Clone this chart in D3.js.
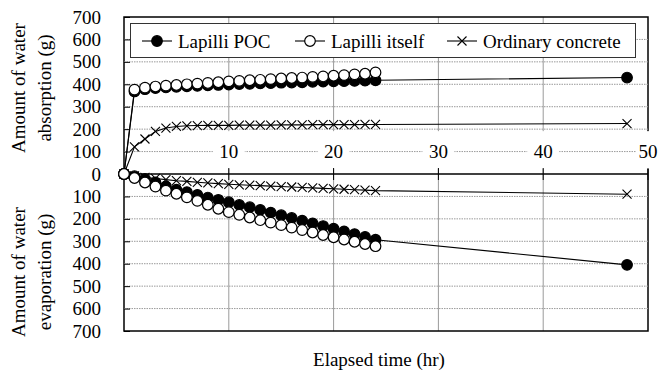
<!DOCTYPE html>
<html>
<head>
  <meta charset="UTF-8">
  <script src="https://d3js.org/d3.v7.min.js"></script>
  <style>
    body { margin: 0; background: #fff; }
    .grid { stroke: #9a9a9a; stroke-width: 1; }
    .hgrid { stroke-dasharray: 1.5 1; }
  </style>
</head>
<body>
  <script>
    // hours measured (0..24 hourly, then 48)
    const hours = [0, 1, 2, 3, 4, 5, 6, 7, 8, 9, 10, 11, 12, 13, 14, 15, 16, 17, 18, 19, 20, 21, 22, 23, 24, 48];

    // absorption (positive, g)
    const pocAbs    = [0, 368, 378, 383, 386, 389, 391, 393, 395, 397, 399, 401, 402, 404, 405, 407, 408, 409, 411, 412, 413, 414, 415, 416, 418, 430];
    const itselfAbs = [0, 376, 385, 390, 394, 397, 400, 403, 406, 409, 413, 415, 418, 420, 423, 426, 428, 430, 433, 435, 438, 441, 444, 447, 453];
    const ordAbs    = [0, 121, 156, 190, 205, 212, 215, 216, 217, 217, 217, 218, 218, 218, 218, 219, 219, 219, 220, 220, 220, 220, 220, 221, 221, 225];

    // evaporation (negative, g)
    const pocEvap    = [0, -10, -22, -37, -55, -70, -81, -93, -105, -115, -126, -138, -148, -160, -172, -184, -196, -208, -220, -232, -244, -256, -268, -280, -293, -405];
    const itselfEvap = [0, -18, -38, -56, -74, -88, -104, -120, -137, -155, -170, -182, -194, -206, -217, -228, -239, -250, -261, -272, -282, -292, -302, -312, -322];
    const ordEvap    = [0, -8, -15, -20, -25, -30, -33, -37, -40, -43, -46, -48, -50, -52, -54, -56, -58, -60, -62, -64, -66, -68, -70, -72, -74, -90];

    const xTicks = [10, 20, 30, 40, 50];
    const yTicks = d3.range(-700, 701, 100);
    const seriesNames = ["Lapilli POC", "Lapilli itself", "Ordinary concrete"];

    const TXT = "font-family: 'Liberation Serif', Tinos, 'Nimbus Roman', FreeSerif, serif !important; font-size: 19px !important;";
    const svg = d3.select("body").append("svg")
      .attr("width", 660).attr("height", 372);
    const x = d3.scaleLinear().domain([0, 50]).range([124, 648]);
    const y = d3.scaleLinear().domain([-700, 700]).range([331, 17]);

    // vertical gridlines
    svg.append("g").selectAll("line")
      .data(xTicks.slice(0, -1))
      .join("line")
        .attr("class", "grid")
        .attr("x1", d => x(d)).attr("x2", d => x(d))
        .attr("y1", y(700)).attr("y2", y(-700));

    // plot frame
    svg.append("rect")
      .attr("x", x(0)).attr("y", y(700))
      .attr("width", x(50) - x(0)).attr("height", y(-700) - y(700))
      .attr("fill", "none").attr("stroke", "#000").attr("stroke-width", 1.5);

    // white band above the time axis
    svg.append("rect")
      .attr("x", x(0) + 1).attr("y", y(200) + 2)
      .attr("width", x(50) - x(0) + 2).attr("height", y(0) - 5 - y(200) - 2)
      .attr("fill", "#fff");

    // horizontal gridlines
    svg.append("g").selectAll("line")
      .data(yTicks.filter(d => d !== 0 && Math.abs(d) !== 700))
      .join("line")
        .attr("class", "grid hgrid")
        .attr("x1", x(0)).attr("x2", x(50))
        .attr("y1", d => y(d)).attr("y2", d => y(d));

    // left axis (ticks point inside)
    const yAxis = svg.append("g")
      .attr("transform", `translate(${x(0)},0)`)
      .call(d3.axisLeft(y).tickValues(yTicks).tickSize(-6).tickPadding(23)
        .tickFormat(d => Math.abs(d)));
    yAxis.attr("font-family", null).attr("font-size", null);
    yAxis.select(".domain").remove();
    yAxis.selectAll(".tick line").attr("stroke", "#000");
    yAxis.selectAll("text").attr("fill", "#000").attr("style", TXT);

    // time axis labels sit on the 100 line
    const xl = svg.append("g").selectAll("g")
      .data(xTicks)
      .join("g")
        .attr("transform", d => `translate(${x(d)},${y(100)})`);
    xl.append("rect")
      .attr("x", d => d === 50 ? -12 : -16).attr("y", -10)
      .attr("width", d => d === 50 ? 30 : 32).attr("height", 20)
      .attr("fill", "#fff");
    xl.append("text")
      .attr("text-anchor", "middle").attr("dy", "0.35em")
      .attr("style", TXT)
      .text(d => d);

    // zero line with ticks
    svg.append("line")
      .attr("x1", x(0)).attr("x2", x(50))
      .attr("y1", y(0)).attr("y2", y(0))
      .attr("stroke", "#000").attr("stroke-width", 1.5);
    svg.append("g").selectAll("line")
      .data(xTicks)
      .join("line")
        .attr("x1", d => x(d)).attr("x2", d => x(d))
        .attr("y1", y(0) - 6).attr("y2", y(0) + 6)
        .attr("stroke", "#000");

    // series
    const line = d3.line().x(d => x(d[0])).y(d => y(d[1]));
    const pairs = vals => vals.map((v, i) => [hours[i], v]);

    function crossPath(s) {
      return `M${-s},${-s}L${s},${s}M${-s},${s}L${s},${-s}`;
    }

    function drawSeries(vals, kind) {
      const pts = pairs(vals);
      svg.append("path").datum(pts)
        .attr("d", line).attr("fill", "none")
        .attr("stroke", "#000").attr("stroke-width", 1.1);
      const g = svg.append("g");
      if (kind === "cross") {
        g.selectAll("path").data(pts).join("path")
          .attr("transform", d => `translate(${x(d[0])},${y(d[1])})`)
          .attr("d", crossPath(4.5))
          .attr("stroke", "#000").attr("stroke-width", 1.1).attr("fill", "none");
      } else {
        g.selectAll("circle").data(pts).join("circle")
          .attr("cx", d => x(d[0])).attr("cy", d => y(d[1]))
          .attr("r", 5.3)
          .attr("fill", kind === "filled" ? "#000" : "#fff")
          .attr("stroke", "#000").attr("stroke-width", 1.2);
      }
    }

    drawSeries(ordAbs, "cross");
    drawSeries(ordEvap, "cross");
    drawSeries(pocAbs, "filled");
    drawSeries(pocEvap, "filled");
    drawSeries(itselfAbs, "open");
    drawSeries(itselfEvap, "open");

    // legend
    const legend = svg.append("g");
    legend.append("rect")
      .attr("x", 130.5).attr("y", 23.5).attr("width", 505).attr("height", 34)
      .attr("fill", "#fff").attr("stroke", "#333").attr("stroke-width", 1);
    const legendX = [157, 310, 462];
    const legendKinds = ["filled", "open", "cross"];
    seriesNames.forEach((name, i) => {
      const cx = legendX[i], cy = 41;
      legend.append("line")
        .attr("x1", cx - 15).attr("x2", cx + 15).attr("y1", cy).attr("y2", cy)
        .attr("stroke", "#000").attr("stroke-width", 1.1);
      if (legendKinds[i] === "cross") {
        legend.append("path")
          .attr("transform", `translate(${cx},${cy})`)
          .attr("d", crossPath(4.5))
          .attr("stroke", "#000").attr("stroke-width", 1.1);
      } else {
        legend.append("circle")
          .attr("cx", cx).attr("cy", cy).attr("r", 5.3)
          .attr("fill", legendKinds[i] === "filled" ? "#000" : "#fff")
          .attr("stroke", "#000").attr("stroke-width", 1.2);
      }
      legend.append("text")
        .attr("x", cx + 21).attr("y", cy).attr("dy", "0.35em")
        .attr("style", TXT)
        .text(name);
    });

    // axis titles
    const titles = [
      { lines: ["Amount of water", "absorption (g)"], cy: 88 },
      { lines: ["Amount of water", "evaporation (g)"], cy: 272 }
    ];
    titles.forEach(t => {
      t.lines.forEach((s, i) => {
        svg.append("text")
          .attr("transform", `translate(${18 + i * 26},${t.cy}) rotate(-90)`)
          .attr("text-anchor", "middle").attr("dy", "0.35em")
          .attr("style", TXT)
          .text(s);
      });
    });

    svg.append("text")
      .attr("x", 379).attr("y", 366)
      .attr("text-anchor", "middle")
      .attr("style", TXT)
      .text("Elapsed time (hr)");
  </script>
</body>
</html>
